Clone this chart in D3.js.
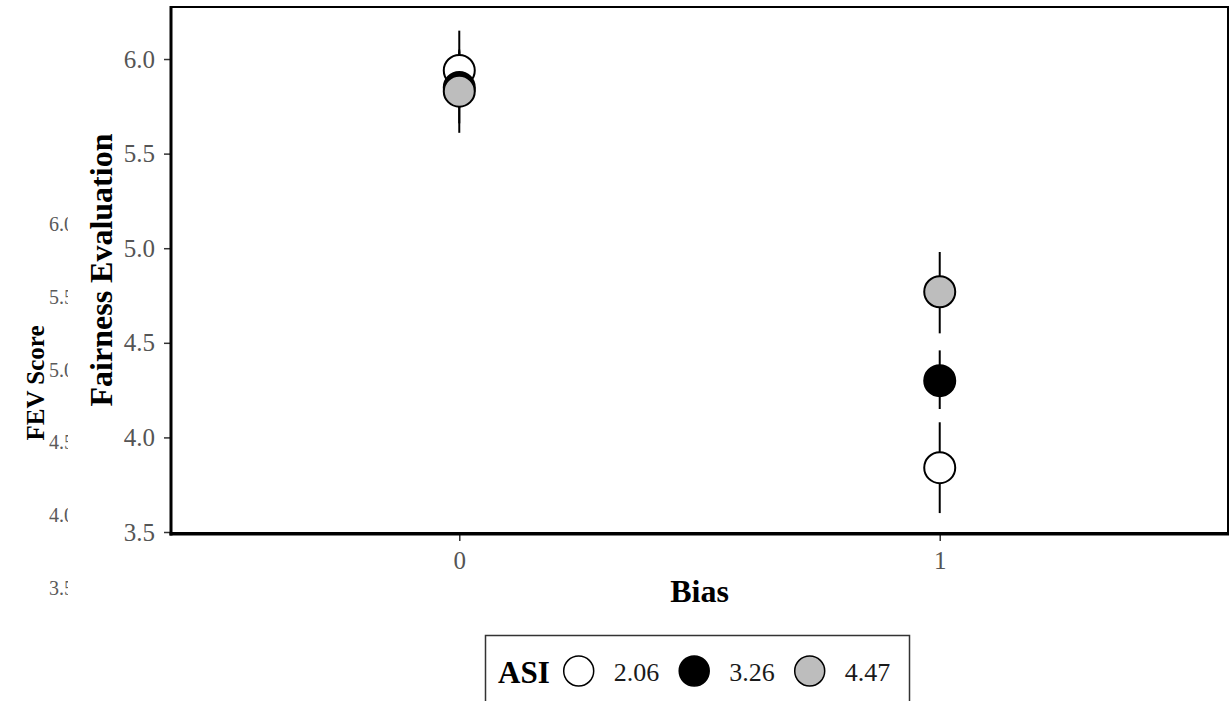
<!DOCTYPE html>
<html>
<head>
<meta charset="utf-8">
<script src="https://cdn.jsdelivr.net/npm/d3@7"></script>
<style>
  body { margin: 0; background: #fff; }
  svg { display: block; font-family: "Liberation Serif", "Times New Roman", serif; }
</style>
</head>
<body>
<div id="chart-area"></div>
<script>
// data
var bias = ["0", "1"];
var asiLevels = ["2.06", "3.26", "4.47"];
var asiFill = ["#ffffff", "#000000", "#bdbdbd"];

// mean and error limits per ASI level, one value per bias level
var mean206 = [5.94, 3.84], low206 = [5.74, 3.60], high206 = [6.15, 4.08];
var mean326 = [5.85, 4.30], low326 = [5.66, 4.15], high326 = [6.05, 4.46];
var mean447 = [5.83, 4.77], low447 = [5.61, 4.55], high447 = [6.04, 4.98];

var yTicks = [3.5, 4.0, 4.5, 5.0, 5.5, 6.0];
var ghostTicks = [3.5, 4.0, 4.5, 5.0, 5.5, 6.0];

var series = [
  { asi: asiLevels[0], fill: asiFill[0], mean: mean206, low: low206, high: high206 },
  { asi: asiLevels[1], fill: asiFill[1], mean: mean326, low: low326, high: high326 },
  { asi: asiLevels[2], fill: asiFill[2], mean: mean447, low: low447, high: high447 }
];

// set the dimensions
var W = 1230, H = 701;
var panel = { left: 171, right: 1228, top: 7, bottom: 533 };

var svg = d3.select("#chart-area")
  .append("svg")
    .attr("width", W)
    .attr("height", H);

// leftover axis of a chart underneath (partly hidden)
var ghostY = d3.scaleLinear().domain([3.5, 6.0]).range([588, 224]);

svg.append("clipPath").attr("id", "ghostclip")
  .append("rect").attr("x", 0).attr("y", 0).attr("width", 68).attr("height", H);

svg.append("g")
    .attr("clip-path", "url(#ghostclip)")
  .selectAll("text")
  .data(ghostTicks)
  .enter().append("text")
    .attr("x", 49)
    .attr("y", function(d) { return ghostY(d); })
    .attr("dy", "0.35em")
    .style("font-size", "20px")
    .attr("fill", "#5a5a5a")
    .text(function(d) { return d3.format(".1f")(d); });

svg.append("text")
    .attr("transform", "rotate(-90)")
    .attr("x", -383)
    .attr("y", 44)
    .style("font-size", "25px")
    .attr("font-weight", "bold")
    .attr("text-anchor", "middle")
    .text("FEV Score");

// scales
var x = d3.scalePoint()
  .domain(bias)
  .range([panel.left, panel.right])
  .padding(0.6);

var y = d3.scaleLinear()
  .domain([3.5, 6.275])
  .range([532, panel.top]);

// panel border
svg.append("rect")
    .attr("x", panel.left)
    .attr("y", panel.top)
    .attr("width", panel.right - panel.left)
    .attr("height", panel.bottom - panel.top)
    .attr("fill", "none")
    .attr("stroke", "#000")
    .attr("stroke-width", 2);

// Y axis
var yAxis = svg.append("g")
    .attr("transform", "translate(" + panel.left + ",0)")
    .call(d3.axisLeft(y).tickValues(yTicks).tickFormat(d3.format(".1f")).tickSize(7).tickPadding(9).tickSizeOuter(0));
yAxis.select(".domain").remove();
yAxis.selectAll(".tick line").attr("stroke", "#333").attr("stroke-width", 1.5);
yAxis.selectAll(".tick text")
    .attr("font-family", "Liberation Serif, serif")
    .style("font-size", "25px")
    .attr("fill", "#555");

// X axis
var xAxis = svg.append("g")
    .attr("transform", "translate(0," + (panel.bottom + 1) + ")")
    .call(d3.axisBottom(x).tickSize(7).tickPadding(10).tickSizeOuter(0));
xAxis.select(".domain").remove();
xAxis.selectAll(".tick line").attr("stroke", "#333").attr("stroke-width", 1.5);
xAxis.selectAll(".tick text")
    .attr("font-family", "Liberation Serif, serif")
    .style("font-size", "25px")
    .attr("fill", "#555");

// thick axis lines
svg.append("line")
    .attr("x1", panel.left).attr("x2", panel.left)
    .attr("y1", panel.top - 1).attr("y2", panel.bottom + 2.5)
    .attr("stroke", "#000").attr("stroke-width", 3);
svg.append("line")
    .attr("x1", panel.left - 1.5).attr("x2", panel.right + 1)
    .attr("y1", panel.bottom + 1).attr("y2", panel.bottom + 1)
    .attr("stroke", "#000").attr("stroke-width", 3);

// labels
svg.append("text")
    .attr("x", (panel.left + panel.right) / 2)
    .attr("y", 602)
    .style("font-size", "32px")
    .attr("font-weight", "bold")
    .attr("text-anchor", "middle")
    .text("Bias");

svg.append("text")
    .attr("transform", "rotate(-90)")
    .attr("x", -(panel.top + panel.bottom) / 2)
    .attr("y", 112)
    .style("font-size", "32px")
    .attr("font-weight", "bold")
    .attr("text-anchor", "middle")
    .text("Fairness Evaluation");

// error bars
var bars = svg.append("g");
series.forEach(function(s) {
  bars.selectAll(null)
    .data(bias)
    .enter().append("line")
      .attr("x1", function(d) { return x(d); })
      .attr("x2", function(d) { return x(d); })
      .attr("y1", function(d, i) { return y(s.high[i]); })
      .attr("y2", function(d, i) { return y(s.low[i]); })
      .attr("stroke", "#000")
      .attr("stroke-width", 2);
});

// points, drawn in level order
var pts = svg.append("g");
series.forEach(function(s) {
  pts.selectAll(null)
    .data(bias)
    .enter().append("circle")
      .attr("cx", function(d) { return x(d); })
      .attr("cy", function(d, i) { return y(s.mean[i]); })
      .attr("r", 15.5)
      .attr("fill", s.fill)
      .attr("stroke", "#000")
      .attr("stroke-width", 2);
});

// legend
var legend = svg.append("g");
legend.append("rect")
    .attr("x", 485.5)
    .attr("y", 635.5)
    .attr("width", 424)
    .attr("height", 90)
    .attr("fill", "#fff")
    .attr("stroke", "#333")
    .attr("stroke-width", 1.5);

var asiTitle = legend.append("text")
    .attr("x", 498)
    .attr("y", 683)
    .style("font-size", "31px")
    .attr("font-weight", "bold")
    .text("ASI");

var lx = 498 + asiTitle.node().getComputedTextLength() + 14;
series.forEach(function(s) {
  legend.append("circle")
      .attr("cx", lx + 15)
      .attr("cy", 671)
      .attr("r", 15)
      .attr("fill", s.fill)
      .attr("stroke", "#000")
      .attr("stroke-width", 1.5);
  var t = legend.append("text")
      .attr("x", lx + 30 + 20)
      .attr("y", 681)
      .style("font-size", "26px")
      .attr("fill", "#1a1a1a")
      .text(s.asi);
  lx = lx + 30 + 20 + t.node().getComputedTextLength() + 20;
});
</script>
</body>
</html>
